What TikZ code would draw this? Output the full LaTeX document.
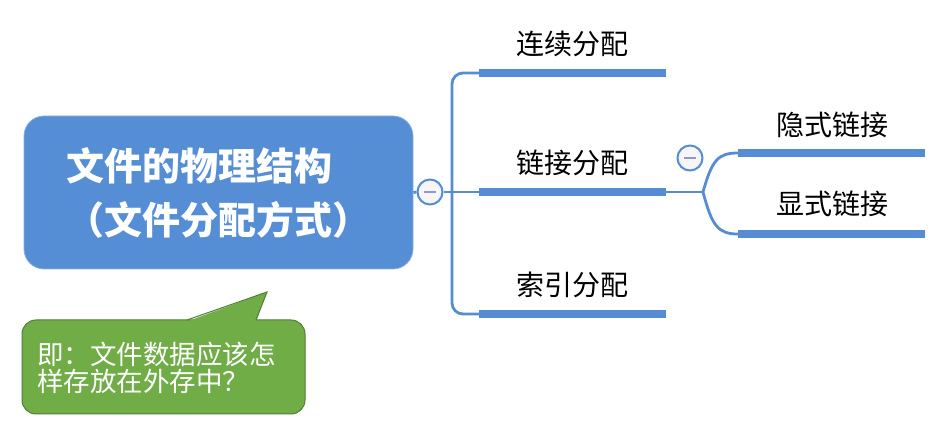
\documentclass[tikz,border=0pt]{standalone}
\usepackage{fontspec}
\newfontfamily\cjk{Noto Sans CJK SC}
\usetikzlibrary{positioning}
\definecolor{rootblue}{RGB}{85,142,213}
\definecolor{linkblue}{RGB}{86,140,212}
\definecolor{notegreen}{RGB}{112,173,71}
\definecolor{noteedge}{RGB}{80,126,50}
\definecolor{foldfill}{RGB}{246,246,250}
\definecolor{foldmark}{RGB}{150,150,195}

\tikzset{
  mainbox/.style={fill=rootblue, draw=rootblue!70!white, line width=0.8pt,
    rounded corners=20pt, minimum width=389pt, minimum height=153pt,
    text=white, align=left, font=\cjk\bfseries\fontsize{38}{54}\selectfont},
  fold/.style={circle, fill=foldfill, draw=linkblue, line width=2pt,
    minimum size=25pt, inner sep=0pt,
    path picture={\draw[foldmark, line width=2pt]
      ([xshift=-6pt]path picture bounding box.center) --
      ([xshift=6pt]path picture bounding box.center);}},
  branch/.style={draw=linkblue, line width=2.8pt},
  bar/.style={draw=linkblue, line width=8pt},
  lbl/.style={font=\cjk\fontsize{28}{30}\selectfont, text=black, inner sep=0pt},
  notetext/.style={font=\cjk\fontsize{26.5}{27}\selectfont, text=white,
    align=left, inner sep=0pt, anchor=west},
}

\begin{document}
\begin{tikzpicture}[x=1pt,y=-1pt]
\useasboundingbox (0,0) rectangle (935,427);

% ---- layout parameters ----
\def\barL{479}     % left end of first level bars
\def\barR{666}     % right end of first level bars
\def\subL{738}     % left end of second level bars
\def\subR{925}     % right end of second level bars

% ---- root and fold buttons ----
\node[mainbox] (root) at (218.5,192.5) {文件的物理结构\\（文件分配方式）};
\node[fold] (foldA) at (430,192) {};
\coordinate (trunk) at (452,192);

% ---- first level bars ----
\coordinate (lianS) at (\barL,73);   \coordinate (lianE) at (\barR,73);
\coordinate (linkS) at (\barL,192);  \coordinate (linkE) at (\barR,192);
\coordinate (suoS)  at (\barL,314);  \coordinate (suoE)  at (\barR,314);

\draw[branch] (root.east) -- (foldA.west);
\draw[branch] (foldA.east) -- (trunk);
\draw[branch, rounded corners=11pt] (lianS) -| (trunk) |- (suoS);
\draw[branch] (trunk) -- (linkS);

\draw[bar] (lianS) -- (lianE);
\draw[bar] (linkS) -- (linkE);
\draw[bar] (suoS) -- (suoE);

\node[lbl] (lian) at (572,44)  {连续分配};
\node[lbl] (link) at (572,163) {链接分配};
\node[lbl] (suo)  at (572,285) {索引分配};

% ---- second level (under 链接分配) ----
\coordinate (split) at (703,192);
\coordinate (yinS) at (\subL,153);  \coordinate (yinE) at (\subR,153);
\coordinate (xianS) at (\subL,234); \coordinate (xianE) at (\subR,234);

\draw[branch] (linkE) -- (split);
\draw[branch] (split) .. controls (712,160) and (718,153) .. (yinS);
\draw[branch] (split) .. controls (712,226) and (718,234) .. (xianS);
\draw[bar] (yinS) -- (yinE);
\draw[bar] (xianS) -- (xianE);
\node[fold] (foldB) at (690,158) {};

\node[lbl] (yin)  at (832,125) {隐式链接};
\node[lbl] (xian) at (832,204) {显式链接};

% ---- callout note ----
\filldraw[fill=notegreen, draw=noteedge, line width=1pt, rounded corners=14pt]
  (22,320) rectangle (305,414);
\fill[notegreen] (187,321.5) -- (267,292) -- (256,321.5) -- cycle;
\draw[noteedge, line width=1pt] (187,320) -- (267,292) -- (256,320);
\node[notetext] (note) at (37,368) {即：文件数据应该怎\\样存放在外存中？};

\end{tikzpicture}
\end{document}
